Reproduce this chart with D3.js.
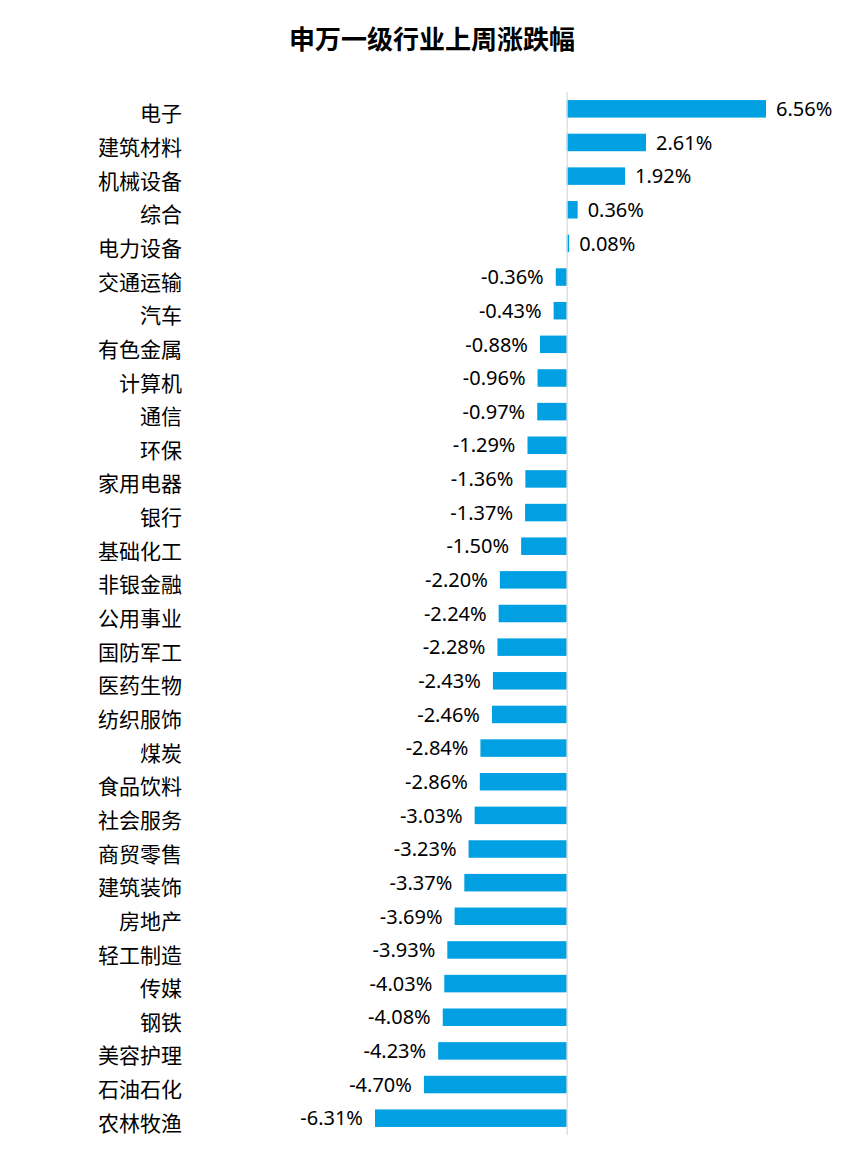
<!DOCTYPE html>
<html>
<head>
<meta charset="utf-8">
<script src="https://cdn.jsdelivr.net/npm/d3@7"></script>
<style>
  body { margin: 0; background: #fff; }
</style>
</head>
<body>
<svg id="chart" width="865" height="1158"></svg>
<script>
// 行业名称与涨跌幅（%）
const industries = ["电子", "建筑材料", "机械设备", "综合", "电力设备", "交通运输", "汽车", "有色金属", "计算机", "通信",
  "环保", "家用电器", "银行", "基础化工", "非银金融", "公用事业", "国防军工", "医药生物", "纺织服饰", "煤炭",
  "食品饮料", "社会服务", "商贸零售", "建筑装饰", "房地产", "轻工制造", "传媒", "钢铁", "美容护理", "石油石化", "农林牧渔"];
const changes = [6.56, 2.61, 1.92, 0.36, 0.08, -0.36, -0.43, -0.88, -0.96, -0.97,
  -1.29, -1.36, -1.37, -1.50, -2.20, -2.24, -2.28, -2.43, -2.46, -2.84,
  -2.86, -3.03, -3.23, -3.37, -3.69, -3.93, -4.03, -4.08, -4.23, -4.70, -6.31];

const svg = d3.select("#chart");
const cjk = "'Noto Sans CJK SC', 'Noto Sans', sans-serif";
const num = "'Noto Sans', 'Noto Sans CJK SC', sans-serif";

const data = industries.map((name, i) => ({ name, value: changes[i] }));

// 比例尺
const x = d3.scaleLinear()
  .domain([-6.31, 6.56])
  .range([375, 766]);

const y = d3.scaleBand()
  .domain(industries)
  .range([92, 1135])
  .paddingInner(0.48)
  .paddingOuter(0.24);

// 标题
svg.append("text")
  .attr("x", 432)
  .attr("y", 49)
  .attr("text-anchor", "middle")
  .style("font-family", cjk)
  .style("font-size", "26px")
  .style("font-weight", "bold")
  .style("fill", "#000")
  .text("申万一级行业上周涨跌幅");

// 柱子
svg.append("g")
  .selectAll("rect")
  .data(data)
  .enter()
  .append("rect")
  .attr("x", d => x(Math.min(0, d.value)))
  .attr("y", d => y(d.name))
  .attr("width", d => Math.abs(x(d.value) - x(0)))
  .attr("height", y.bandwidth())
  .attr("fill", "#00a0e2");

// 零轴
svg.append("line")
  .attr("x1", x(0) + 0.5)
  .attr("x2", x(0) + 0.5)
  .attr("y1", 92)
  .attr("y2", 1135)
  .attr("stroke", "#d9d9d9")
  .attr("stroke-width", 1.2);

// 行业标签（比柱子略低一点）
svg.append("g")
  .selectAll("text")
  .data(data)
  .enter()
  .append("text")
  .attr("x", 182)
  .attr("y", d => y(d.name) + y.bandwidth() / 2 + 5)
  .attr("dy", "0.36em")
  .attr("text-anchor", "end")
  .style("font-family", cjk)
  .style("font-size", "21px")
  .style("fill", "#000")
  .text(d => d.name);

// 数值标签
svg.append("g")
  .selectAll("text")
  .data(data)
  .enter()
  .append("text")
  .attr("x", d => d.value >= 0 ? x(d.value) + 10 : x(d.value) - 12)
  .attr("y", d => y(d.name) + y.bandwidth() / 2)
  .attr("dy", "0.36em")
  .attr("text-anchor", d => d.value >= 0 ? "start" : "end")
  .style("font-family", num)
  .style("font-size", "20px")
  .style("fill", "#000")
  .text(d => d.value.toFixed(2) + "%");
</script>
</body>
</html>
